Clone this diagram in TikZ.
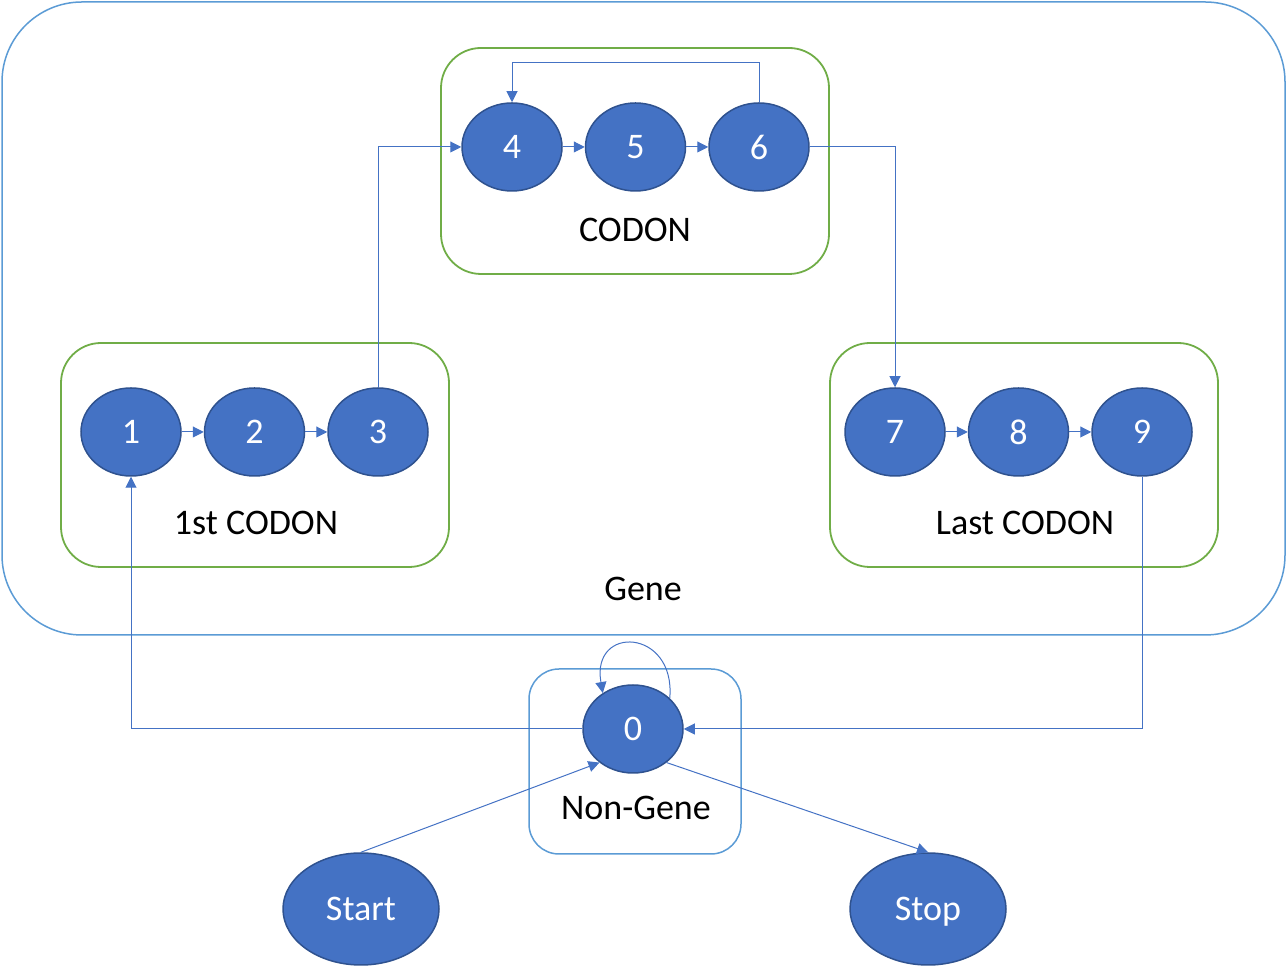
\documentclass[tikz,border=0pt]{standalone}
\usepackage{fontspec}
\setmainfont{Carlito}
\usetikzlibrary{arrows.meta}
\usetikzlibrary{positioning}
\usetikzlibrary{shapes.geometric}

\definecolor{statefill}{HTML}{4472C4}
\definecolor{stateline}{HTML}{2F528F}
\definecolor{geneline}{HTML}{5B9BD5}
\definecolor{codonline}{HTML}{70AD47}

\tikzset{
    hmmstate/.style={ellipse, fill=statefill, draw=stateline, line width=1.5pt,
        minimum width=100pt, minimum height=88pt, inner sep=0pt, text depth=0pt,
        text=white, font=\fontsize{36}{40}\selectfont},
    endstate/.style={hmmstate, minimum width=156pt, minimum height=112pt},
    generegion/.style={draw=geneline, line width=1.5pt, rounded corners=80pt},
    codonregion/.style={draw=codonline, line width=1.8pt, rounded corners=40pt},
    regionlabel/.style={font=\fontsize{36}{40}\selectfont},
    trans/.style={draw=statefill, line width=1pt, -{Triangle[length=11pt,width=11pt]}},
}

\begin{document}
\begin{tikzpicture}[x=1pt, y=1pt, node distance=22pt]

            \useasboundingbox (0,0) rectangle (1287,968);

            % regions
            \draw[generegion] (2,333) rectangle (1285,966);
            \draw[codonregion] (441,694) rectangle (829,920);
            \draw[codonregion] (61,401) rectangle (449,625);
            \draw[codonregion] (830,401) rectangle (1218,625);
            \draw[generegion, rounded corners=30pt] (529,114) rectangle (741,299);

            \node[regionlabel] (l_codon) at (635,738) {CODON};
            \node[regionlabel] (l_first) at (256,445) {1st CODON};
            \node[regionlabel] (l_last)  at (1025,445) {Last CODON};
            \node[regionlabel] (l_gene)  at (643,379) {Gene};
            \node[regionlabel] (l_non)   at (636,160) {Non-Gene};

            % states
            \node[hmmstate] (s_1) at (131,536) {1};
            \node[hmmstate] (s_2) [right = of s_1] {2};
            \node[hmmstate] (s_3) [right = of s_2] {3};
            \node[hmmstate] (s_4) at (512,821) {4};
            \node[hmmstate] (s_5) [right = of s_4] {5};
            \node[hmmstate] (s_6) [right = of s_5] {6};
            \node[hmmstate] (s_7) at (895,536) {7};
            \node[hmmstate] (s_8) [right = of s_7] {8};
            \node[hmmstate] (s_9) [right = of s_8] {9};
            \node[hmmstate] (s_0) at (633,239) {0};
            \node[endstate] (start) at (361,59) {Start};
            \node[endstate] (stop)  at (928,59) {Stop};

            % transitions
            \draw[trans] (s_1) -- (s_2);
            \draw[trans] (s_2) -- (s_3);
            \draw[trans] (s_4) -- (s_5);
            \draw[trans] (s_5) -- (s_6);
            \draw[trans] (s_7) -- (s_8);
            \draw[trans] (s_8) -- (s_9);
            \draw[trans] (s_3.north) |- (s_4.west);
            \draw[trans] (s_6.north) -- ++(0,40) -| (s_4.north);
            \draw[trans] (s_6.east) -| (s_7.north);
            \draw[trans] (s_9.south) |- (s_0.east);
            \draw[trans] (s_0.west) -| (s_1.south);
            \draw[trans] (s_0.40) .. controls +(85:70) and +(100:70) .. (s_0.130);
            \draw[trans] (start.north) -- (s_0.225);
            \draw[trans] (s_0.-45) -- (stop.north);

        \end{tikzpicture}
\end{document}
